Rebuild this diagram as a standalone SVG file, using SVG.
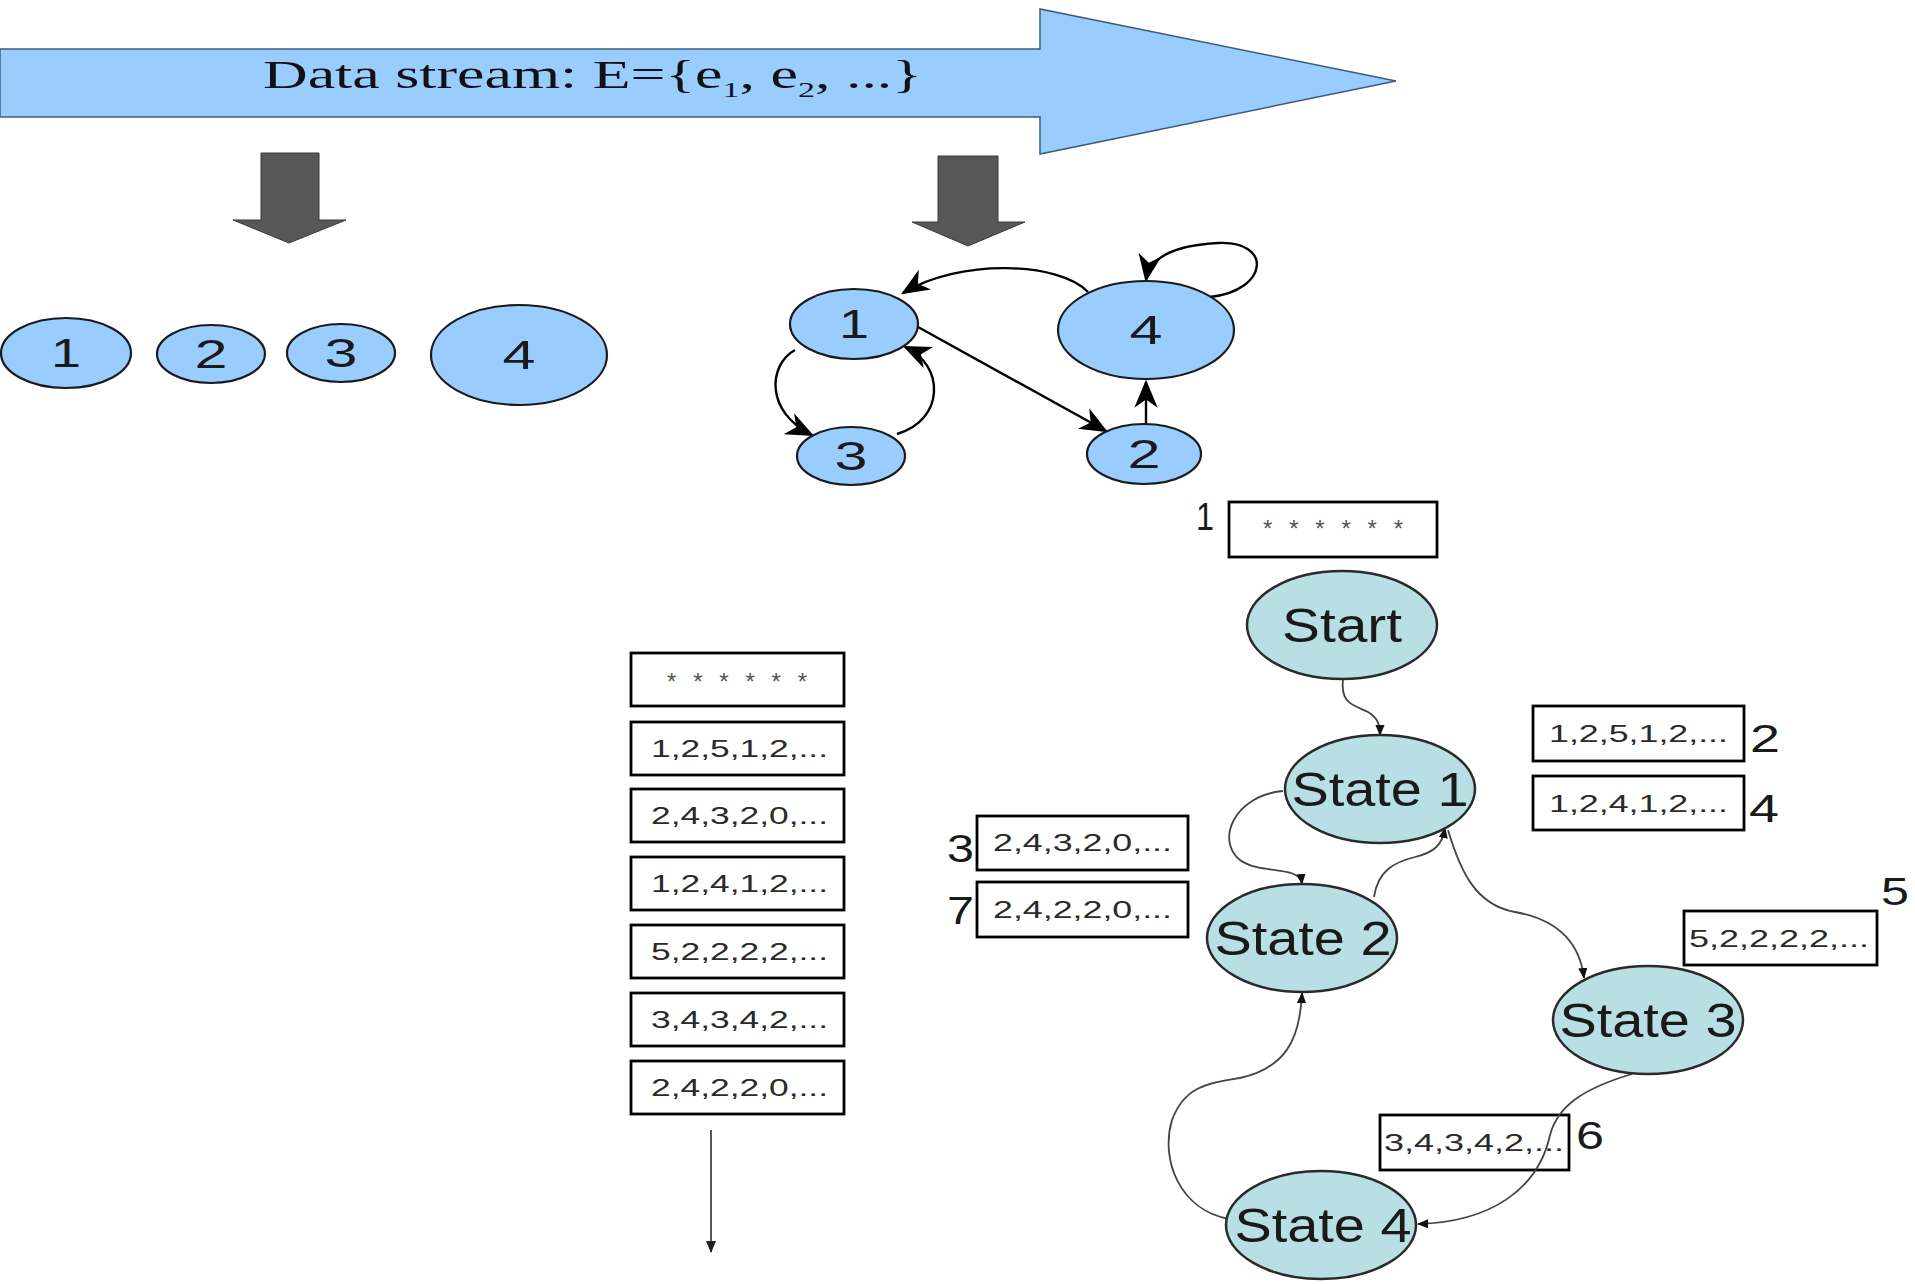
<svg xmlns="http://www.w3.org/2000/svg" width="1915" height="1284" viewBox="0 0 1915 1284">
<defs>
<marker id="bigArrow" viewBox="0 0 24 20" refX="22" refY="10" markerWidth="28" markerHeight="24" markerUnits="userSpaceOnUse" orient="auto">
<path d="M0,0 L24,10 L0,20 L7,10 z" fill="#000"/>
</marker>
<marker id="smallArrow" viewBox="0 0 12 10" refX="11" refY="5" markerWidth="11" markerHeight="10" markerUnits="userSpaceOnUse" orient="auto">
<path d="M0,0 L12,5 L0,10 z" fill="#111"/>
</marker>
<marker id="grayArrow" viewBox="0 0 12 10" refX="11" refY="5" markerWidth="12" markerHeight="11" markerUnits="userSpaceOnUse" orient="auto">
<path d="M0,0 L12,5 L0,10 z" fill="#222"/>
</marker>
</defs>
<style>
.blue{fill:#99ccff;stroke:#1a1a1a;stroke-width:2.2}
.state{fill:#b8dfe3;stroke:#2a2a2a;stroke-width:2.5}
.num{font-family:"Liberation Sans",Arial,sans-serif;font-size:40px;fill:#1a1a1a;text-anchor:middle}
.stxt{font-family:"Liberation Sans",Arial,sans-serif;font-size:48px;fill:#1a1a1a;text-anchor:middle}
.lbl{font-family:"Liberation Sans",Arial,sans-serif;font-size:38px;fill:#1a1a1a}
.box{fill:#fff;stroke:#000;stroke-width:2.8}
.btxt{font-family:"Liberation Sans",Arial,sans-serif;font-size:24px;fill:#2a2a2a}
.star{font-family:"Liberation Sans",Arial,sans-serif;font-size:24px;fill:#555}
.gedge{fill:none;stroke:#000;stroke-width:2.4}
.sedge{fill:none;stroke:#444;stroke-width:1.8}
.down{fill:#575757;stroke:#3a3a3a;stroke-width:1}
</style>

<g id="stream">
<path d="M0,49 L1040,49 L1040,9 L1396,81 L1040,154 L1040,117 L0,117 z" fill="#99ccff" stroke="#3d5c7a" stroke-width="1.5"/>
<text x="263" y="88" font-family="'Liberation Serif','Times New Roman',serif" font-size="40" fill="#111" textLength="659" lengthAdjust="spacingAndGlyphs">Data stream: E={e<tspan font-size="22" dy="9">1</tspan><tspan dy="-9">, e</tspan><tspan font-size="22" dy="9">2</tspan><tspan dy="-9">, ...}</tspan></text>
</g>

<g id="down-left"><path class="down" d="M261,153 L319,153 L319,220 L346,220 L289,243 L233,220 L261,220 z"/></g>
<g id="down-right"><path class="down" d="M938,156 L998,156 L998,222 L1025,222 L968,246 L912,222 L938,222 z"/></g>

<g id="left-1"><ellipse class="blue" cx="66" cy="353" rx="65" ry="35"/><text class="num" x="66" y="367" textLength="30" lengthAdjust="spacingAndGlyphs">1</text></g>
<g id="left-2"><ellipse class="blue" cx="211" cy="354" rx="54" ry="29"/><text class="num" x="211" y="368" textLength="33" lengthAdjust="spacingAndGlyphs">2</text></g>
<g id="left-3"><ellipse class="blue" cx="341" cy="353" rx="54" ry="29"/><text class="num" x="341" y="367" textLength="33" lengthAdjust="spacingAndGlyphs">3</text></g>
<g id="left-4"><ellipse class="blue" cx="519" cy="355" rx="88" ry="50"/><text class="num" x="519" y="369" textLength="33" lengthAdjust="spacingAndGlyphs">4</text></g>

<g id="graph-edges">
<path class="gedge" d="M1088,292 C1060,262 960,258 903,293" marker-end="url(#bigArrow)"/>
<path class="gedge" d="M1210,297 C1270,290 1272,240 1218,243 C1180,245 1150,255 1146,280" marker-end="url(#bigArrow)"/>
<path class="gedge" d="M918,327 L1106,431" marker-end="url(#bigArrow)"/>
<path class="gedge" d="M1146,424 L1146,382" marker-end="url(#bigArrow)"/>
<path class="gedge" d="M795,350 C768,365 765,412 812,435" marker-end="url(#bigArrow)"/>
<path class="gedge" d="M897,434 C945,420 945,365 905,347" marker-end="url(#bigArrow)"/>
</g>

<g id="g-1"><ellipse class="blue" cx="854" cy="324" rx="64" ry="35"/><text class="num" x="854" y="338" textLength="30" lengthAdjust="spacingAndGlyphs">1</text></g>
<g id="g-4"><ellipse class="blue" cx="1146" cy="330" rx="88" ry="49"/><text class="num" x="1146" y="344" textLength="33" lengthAdjust="spacingAndGlyphs">4</text></g>
<g id="g-3"><ellipse class="blue" cx="851" cy="456" rx="54" ry="29"/><text class="num" x="851" y="470" textLength="33" lengthAdjust="spacingAndGlyphs">3</text></g>
<g id="g-2"><ellipse class="blue" cx="1144" cy="454" rx="57" ry="30"/><text class="num" x="1144" y="468" textLength="33" lengthAdjust="spacingAndGlyphs">2</text></g>

<g id="list">
<rect class="box" x="631" y="653" width="213" height="53"/><text class="star" x="667" y="690" textLength="140" lengthAdjust="spacing">* * * * * *</text>
<rect class="box" x="631" y="722" width="213" height="53"/><text class="btxt" x="651" y="757" textLength="177" lengthAdjust="spacingAndGlyphs">1,2,5,1,2,...</text>
<rect class="box" x="631" y="789" width="213" height="53"/><text class="btxt" x="651" y="824" textLength="177" lengthAdjust="spacingAndGlyphs">2,4,3,2,0,...</text>
<rect class="box" x="631" y="857" width="213" height="53"/><text class="btxt" x="651" y="892" textLength="177" lengthAdjust="spacingAndGlyphs">1,2,4,1,2,...</text>
<rect class="box" x="631" y="925" width="213" height="53"/><text class="btxt" x="651" y="960" textLength="177" lengthAdjust="spacingAndGlyphs">5,2,2,2,2,...</text>
<rect class="box" x="631" y="993" width="213" height="53"/><text class="btxt" x="651" y="1028" textLength="177" lengthAdjust="spacingAndGlyphs">3,4,3,4,2,...</text>
<rect class="box" x="631" y="1061" width="213" height="53"/><text class="btxt" x="651" y="1096" textLength="177" lengthAdjust="spacingAndGlyphs">2,4,2,2,0,...</text>
</g>

<g id="box-6"><rect class="box" x="1380" y="1115" width="189" height="55"/><text class="btxt" x="1384" y="1151" textLength="180" lengthAdjust="spacingAndGlyphs">3,4,3,4,2,...</text><text class="lbl" x="1576" y="1149" textLength="28" lengthAdjust="spacingAndGlyphs">6</text></g>

<g id="state-edges">
<path class="sedge" d="M1343,679 C1340,705 1355,705 1368,712 C1378,718 1380,725 1380,735" marker-end="url(#smallArrow)"/>
<path class="sedge" d="M1283,791 C1235,795 1215,840 1240,860 C1260,875 1300,865 1302,884" marker-end="url(#smallArrow)"/>
<path class="sedge" d="M1374,897 C1378,870 1395,862 1415,857 C1435,852 1442,845 1445,828" marker-end="url(#smallArrow)"/>
<path class="sedge" d="M1448,830 C1460,870 1475,905 1515,912 C1560,920 1580,945 1584,978" marker-end="url(#smallArrow)"/>
<path class="sedge" d="M1632,1074 C1585,1088 1558,1105 1550,1135 C1538,1190 1490,1222 1418,1224" marker-end="url(#smallArrow)"/>
<path class="sedge" d="M1229,1219 C1180,1210 1160,1160 1172,1120 C1185,1085 1210,1083 1240,1078 C1285,1068 1300,1040 1302,993" marker-end="url(#smallArrow)"/>
<path class="sedge" d="M711,1130 L711,1252" stroke="#666" marker-end="url(#grayArrow)"/>
</g>

<g id="box-1"><rect class="box" x="1229" y="502" width="208" height="55"/><text class="star" x="1263" y="537" textLength="140" lengthAdjust="spacing">* * * * * *</text><text class="lbl" x="1196" y="530" textLength="18" lengthAdjust="spacingAndGlyphs">1</text></g>
<g id="box-2"><rect class="box" x="1533" y="706" width="211" height="55"/><text class="btxt" x="1549" y="742" textLength="179" lengthAdjust="spacingAndGlyphs">1,2,5,1,2,...</text><text class="lbl" x="1750" y="752" textLength="30" lengthAdjust="spacingAndGlyphs">2</text></g>
<g id="box-4"><rect class="box" x="1533" y="776" width="211" height="54"/><text class="btxt" x="1549" y="812" textLength="179" lengthAdjust="spacingAndGlyphs">1,2,4,1,2,...</text><text class="lbl" x="1749" y="822" textLength="30" lengthAdjust="spacingAndGlyphs">4</text></g>
<g id="box-3"><rect class="box" x="977" y="816" width="211" height="54"/><text class="btxt" x="993" y="851" textLength="179" lengthAdjust="spacingAndGlyphs">2,4,3,2,0,...</text><text class="lbl" x="947" y="862" textLength="27" lengthAdjust="spacingAndGlyphs">3</text></g>
<g id="box-7"><rect class="box" x="977" y="882" width="211" height="55"/><text class="btxt" x="993" y="918" textLength="179" lengthAdjust="spacingAndGlyphs">2,4,2,2,0,...</text><text class="lbl" x="947" y="924" textLength="27" lengthAdjust="spacingAndGlyphs">7</text></g>
<g id="box-5"><rect class="box" x="1684" y="911" width="193" height="54"/><text class="btxt" x="1689" y="947" textLength="180" lengthAdjust="spacingAndGlyphs">5,2,2,2,2,...</text><text class="lbl" x="1881" y="905" textLength="28" lengthAdjust="spacingAndGlyphs">5</text></g>

<g id="start"><ellipse class="state" cx="1342" cy="625" rx="95" ry="54"/><text class="stxt" x="1342" y="642" textLength="120" lengthAdjust="spacingAndGlyphs">Start</text></g>
<g id="state1"><ellipse class="state" cx="1380" cy="789" rx="95" ry="54"/><text class="stxt" x="1380" y="806" textLength="177" lengthAdjust="spacingAndGlyphs">State 1</text></g>
<g id="state2"><ellipse class="state" cx="1302" cy="938" rx="95" ry="54"/><text class="stxt" x="1303" y="955" textLength="177" lengthAdjust="spacingAndGlyphs">State 2</text></g>
<g id="state3"><ellipse class="state" cx="1648" cy="1020" rx="95" ry="54"/><text class="stxt" x="1648" y="1037" textLength="177" lengthAdjust="spacingAndGlyphs">State 3</text></g>
<g id="state4"><ellipse class="state" cx="1321" cy="1225" rx="95" ry="54"/><text class="stxt" x="1323" y="1242" textLength="177" lengthAdjust="spacingAndGlyphs">State 4</text></g>
</svg>
